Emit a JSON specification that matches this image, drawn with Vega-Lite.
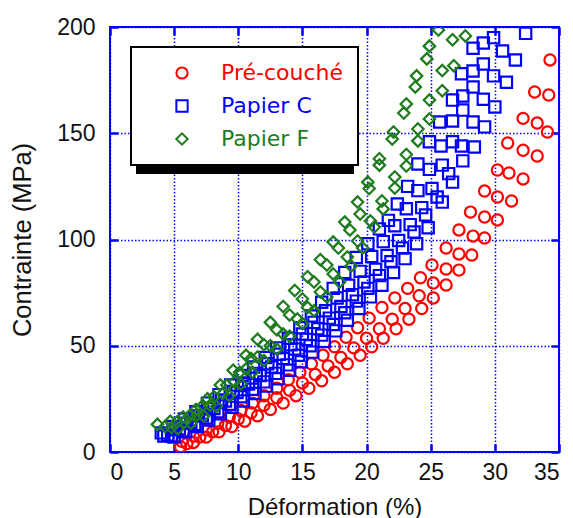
{
  "$schema": "https://vega.github.io/schema/vega-lite/v6.json",
  "width": 449,
  "height": 425,
  "autosize": {"type": "none"},
  "padding": {"left": 110, "top": 27, "right": 14, "bottom": 66},
  "background": "white",
  "config": {
    "view": {"stroke": "#0000ff", "strokeWidth": 2},
    "axis": {
      "labelFont": "Liberation Sans",
      "labelFontSize": 23,
      "labelColor": "#111111",
      "titleFont": "Liberation Sans",
      "titleFontSize": 24,
      "titleFontWeight": "normal",
      "titleColor": "#111111",
      "domain": false,
      "ticks": true,
      "tickColor": "#0000ff",
      "tickWidth": 2.5,
      "tickSize": -8,
      "gridColor": "#0000ff",
      "gridDash": [1.5, 2],
      "gridWidth": 1.5,
      "gridOpacity": 1
    },
    "legend": {
      "strokeWidth": 2
    }
  },
  "data": {
    "values": [
      {"serie":"Pré-couché","deformation":5.6,"contrainte":5},
      {"serie":"Pré-couché","deformation":6.5,"contrainte":7.5},
      {"serie":"Pré-couché","deformation":7.5,"contrainte":10.5},
      {"serie":"Pré-couché","deformation":8.4,"contrainte":13.5},
      {"serie":"Pré-couché","deformation":9.3,"contrainte":16.5},
      {"serie":"Pré-couché","deformation":10.2,"contrainte":19.5},
      {"serie":"Pré-couché","deformation":11.1,"contrainte":23},
      {"serie":"Pré-couché","deformation":12,"contrainte":26.5},
      {"serie":"Pré-couché","deformation":13,"contrainte":30},
      {"serie":"Pré-couché","deformation":13.9,"contrainte":34},
      {"serie":"Pré-couché","deformation":14.8,"contrainte":37.5},
      {"serie":"Pré-couché","deformation":15.7,"contrainte":41.5},
      {"serie":"Pré-couché","deformation":16.6,"contrainte":45.5},
      {"serie":"Pré-couché","deformation":17.5,"contrainte":49.5},
      {"serie":"Pré-couché","deformation":18.4,"contrainte":54},
      {"serie":"Pré-couché","deformation":19.3,"contrainte":58.5},
      {"serie":"Pré-couché","deformation":20.2,"contrainte":63},
      {"serie":"Pré-couché","deformation":21.2,"contrainte":68},
      {"serie":"Pré-couché","deformation":22.2,"contrainte":72.5},
      {"serie":"Pré-couché","deformation":23.2,"contrainte":77},
      {"serie":"Pré-couché","deformation":24.2,"contrainte":82},
      {"serie":"Pré-couché","deformation":25.1,"contrainte":88},
      {"serie":"Pré-couché","deformation":26.2,"contrainte":96},
      {"serie":"Pré-couché","deformation":27.2,"contrainte":104.5},
      {"serie":"Pré-couché","deformation":28.1,"contrainte":112.9},
      {"serie":"Pré-couché","deformation":29.2,"contrainte":122.8},
      {"serie":"Pré-couché","deformation":30.2,"contrainte":132.7},
      {"serie":"Pré-couché","deformation":31,"contrainte":145.4},
      {"serie":"Pré-couché","deformation":32.2,"contrainte":157},
      {"serie":"Pré-couché","deformation":33.1,"contrainte":169.4},
      {"serie":"Pré-couché","deformation":34.3,"contrainte":184.5},
      {"serie":"Pré-couché","deformation":6,"contrainte":4},
      {"serie":"Pré-couché","deformation":7,"contrainte":7},
      {"serie":"Pré-couché","deformation":8,"contrainte":9.5},
      {"serie":"Pré-couché","deformation":9,"contrainte":12.5},
      {"serie":"Pré-couché","deformation":10,"contrainte":15.5},
      {"serie":"Pré-couché","deformation":11,"contrainte":18.5},
      {"serie":"Pré-couché","deformation":12,"contrainte":22},
      {"serie":"Pré-couché","deformation":13,"contrainte":25.5},
      {"serie":"Pré-couché","deformation":14,"contrainte":29},
      {"serie":"Pré-couché","deformation":15,"contrainte":32.5},
      {"serie":"Pré-couché","deformation":16,"contrainte":36.5},
      {"serie":"Pré-couché","deformation":17,"contrainte":40.5},
      {"serie":"Pré-couché","deformation":18,"contrainte":44.5},
      {"serie":"Pré-couché","deformation":19,"contrainte":49},
      {"serie":"Pré-couché","deformation":20,"contrainte":53.5},
      {"serie":"Pré-couché","deformation":21,"contrainte":58},
      {"serie":"Pré-couché","deformation":22,"contrainte":62.5},
      {"serie":"Pré-couché","deformation":23,"contrainte":67.5},
      {"serie":"Pré-couché","deformation":24.1,"contrainte":73.5},
      {"serie":"Pré-couché","deformation":25.2,"contrainte":79.5},
      {"serie":"Pré-couché","deformation":26.2,"contrainte":86.1},
      {"serie":"Pré-couché","deformation":27.2,"contrainte":93.2},
      {"serie":"Pré-couché","deformation":28.3,"contrainte":101.6},
      {"serie":"Pré-couché","deformation":29.2,"contrainte":110.6},
      {"serie":"Pré-couché","deformation":30.2,"contrainte":120},
      {"serie":"Pré-couché","deformation":31.1,"contrainte":131.3},
      {"serie":"Pré-couché","deformation":32.2,"contrainte":142},
      {"serie":"Pré-couché","deformation":33.3,"contrainte":154.8},
      {"serie":"Pré-couché","deformation":34.2,"contrainte":168},
      {"serie":"Pré-couché","deformation":5.5,"contrainte":2.5},
      {"serie":"Pré-couché","deformation":6.5,"contrainte":4.5},
      {"serie":"Pré-couché","deformation":7.5,"contrainte":7},
      {"serie":"Pré-couché","deformation":8.5,"contrainte":9.5},
      {"serie":"Pré-couché","deformation":9.5,"contrainte":12},
      {"serie":"Pré-couché","deformation":10.5,"contrainte":14.5},
      {"serie":"Pré-couché","deformation":11.5,"contrainte":17},
      {"serie":"Pré-couché","deformation":12.5,"contrainte":20},
      {"serie":"Pré-couché","deformation":13.5,"contrainte":23},
      {"serie":"Pré-couché","deformation":14.5,"contrainte":26.5},
      {"serie":"Pré-couché","deformation":15.5,"contrainte":30},
      {"serie":"Pré-couché","deformation":16.5,"contrainte":33.5},
      {"serie":"Pré-couché","deformation":17.5,"contrainte":37.5},
      {"serie":"Pré-couché","deformation":18.5,"contrainte":41.5},
      {"serie":"Pré-couché","deformation":19.5,"contrainte":45.5},
      {"serie":"Pré-couché","deformation":20.4,"contrainte":49.5},
      {"serie":"Pré-couché","deformation":21.3,"contrainte":53.5},
      {"serie":"Pré-couché","deformation":22.3,"contrainte":58},
      {"serie":"Pré-couché","deformation":23.3,"contrainte":62.5},
      {"serie":"Pré-couché","deformation":24.3,"contrainte":67.5},
      {"serie":"Pré-couché","deformation":25.2,"contrainte":72.5},
      {"serie":"Pré-couché","deformation":26.2,"contrainte":78.6},
      {"serie":"Pré-couché","deformation":27.2,"contrainte":85.6},
      {"serie":"Pré-couché","deformation":28.2,"contrainte":92.7},
      {"serie":"Pré-couché","deformation":29.2,"contrainte":100.7},
      {"serie":"Pré-couché","deformation":30.2,"contrainte":109.2},
      {"serie":"Pré-couché","deformation":31.3,"contrainte":118.1},
      {"serie":"Pré-couché","deformation":32.2,"contrainte":128.5},
      {"serie":"Pré-couché","deformation":33.3,"contrainte":139.3},
      {"serie":"Pré-couché","deformation":34.1,"contrainte":150.6},
      {"serie":"Papier C","deformation":4,"contrainte":9},
      {"serie":"Papier C","deformation":4.9,"contrainte":12},
      {"serie":"Papier C","deformation":5.8,"contrainte":15.5},
      {"serie":"Papier C","deformation":6.7,"contrainte":19},
      {"serie":"Papier C","deformation":7.6,"contrainte":23},
      {"serie":"Papier C","deformation":8.5,"contrainte":27},
      {"serie":"Papier C","deformation":9.4,"contrainte":31.5},
      {"serie":"Papier C","deformation":10.3,"contrainte":36},
      {"serie":"Papier C","deformation":11.2,"contrainte":40},
      {"serie":"Papier C","deformation":12.1,"contrainte":44.5},
      {"serie":"Papier C","deformation":13,"contrainte":49},
      {"serie":"Papier C","deformation":13.9,"contrainte":53.5},
      {"serie":"Papier C","deformation":14.8,"contrainte":58.5},
      {"serie":"Papier C","deformation":15.7,"contrainte":64},
      {"serie":"Papier C","deformation":16.5,"contrainte":70.5},
      {"serie":"Papier C","deformation":17.4,"contrainte":77},
      {"serie":"Papier C","deformation":18.3,"contrainte":84.5},
      {"serie":"Papier C","deformation":19.2,"contrainte":91.5},
      {"serie":"Papier C","deformation":20.1,"contrainte":98},
      {"serie":"Papier C","deformation":21,"contrainte":105},
      {"serie":"Papier C","deformation":21.7,"contrainte":109},
      {"serie":"Papier C","deformation":22.4,"contrainte":116.7},
      {"serie":"Papier C","deformation":23.2,"contrainte":125},
      {"serie":"Papier C","deformation":24,"contrainte":135.5},
      {"serie":"Papier C","deformation":24.9,"contrainte":146},
      {"serie":"Papier C","deformation":25.7,"contrainte":155.3},
      {"serie":"Papier C","deformation":26.7,"contrainte":165.6},
      {"serie":"Papier C","deformation":27.4,"contrainte":178},
      {"serie":"Papier C","deformation":28.3,"contrainte":190},
      {"serie":"Papier C","deformation":4.2,"contrainte":7.5},
      {"serie":"Papier C","deformation":5.1,"contrainte":10.5},
      {"serie":"Papier C","deformation":6,"contrainte":13.5},
      {"serie":"Papier C","deformation":6.9,"contrainte":17},
      {"serie":"Papier C","deformation":7.8,"contrainte":20.5},
      {"serie":"Papier C","deformation":8.7,"contrainte":24.5},
      {"serie":"Papier C","deformation":9.6,"contrainte":28.5},
      {"serie":"Papier C","deformation":10.5,"contrainte":32.5},
      {"serie":"Papier C","deformation":11.4,"contrainte":37},
      {"serie":"Papier C","deformation":12.3,"contrainte":41.5},
      {"serie":"Papier C","deformation":13.2,"contrainte":46},
      {"serie":"Papier C","deformation":14.1,"contrainte":50.5},
      {"serie":"Papier C","deformation":15,"contrainte":55.5},
      {"serie":"Papier C","deformation":15.9,"contrainte":61},
      {"serie":"Papier C","deformation":16.8,"contrainte":66.5},
      {"serie":"Papier C","deformation":17.7,"contrainte":72.5},
      {"serie":"Papier C","deformation":18.6,"contrainte":78.5},
      {"serie":"Papier C","deformation":19.5,"contrainte":85},
      {"serie":"Papier C","deformation":20.4,"contrainte":92},
      {"serie":"Papier C","deformation":21.3,"contrainte":99},
      {"serie":"Papier C","deformation":22.2,"contrainte":106.5},
      {"serie":"Papier C","deformation":23.1,"contrainte":114.5},
      {"serie":"Papier C","deformation":24,"contrainte":123},
      {"serie":"Papier C","deformation":24.9,"contrainte":133},
      {"serie":"Papier C","deformation":25.8,"contrainte":144},
      {"serie":"Papier C","deformation":26.7,"contrainte":155.8},
      {"serie":"Papier C","deformation":27.5,"contrainte":167.5},
      {"serie":"Papier C","deformation":28.3,"contrainte":179.3},
      {"serie":"Papier C","deformation":29.1,"contrainte":192.5},
      {"serie":"Papier C","deformation":4.5,"contrainte":8},
      {"serie":"Papier C","deformation":5.4,"contrainte":11},
      {"serie":"Papier C","deformation":6.3,"contrainte":14},
      {"serie":"Papier C","deformation":7.2,"contrainte":17},
      {"serie":"Papier C","deformation":8.1,"contrainte":20.5},
      {"serie":"Papier C","deformation":9,"contrainte":24},
      {"serie":"Papier C","deformation":9.9,"contrainte":28},
      {"serie":"Papier C","deformation":10.8,"contrainte":32},
      {"serie":"Papier C","deformation":11.7,"contrainte":36},
      {"serie":"Papier C","deformation":12.6,"contrainte":40},
      {"serie":"Papier C","deformation":13.5,"contrainte":44},
      {"serie":"Papier C","deformation":14.4,"contrainte":48.5},
      {"serie":"Papier C","deformation":15.3,"contrainte":53},
      {"serie":"Papier C","deformation":16.2,"contrainte":58},
      {"serie":"Papier C","deformation":17.1,"contrainte":63},
      {"serie":"Papier C","deformation":18,"contrainte":68.5},
      {"serie":"Papier C","deformation":18.9,"contrainte":74},
      {"serie":"Papier C","deformation":19.8,"contrainte":80},
      {"serie":"Papier C","deformation":20.7,"contrainte":86},
      {"serie":"Papier C","deformation":21.6,"contrainte":92.5},
      {"serie":"Papier C","deformation":22.5,"contrainte":99.5},
      {"serie":"Papier C","deformation":23.4,"contrainte":107},
      {"serie":"Papier C","deformation":24.3,"contrainte":115},
      {"serie":"Papier C","deformation":25.1,"contrainte":124},
      {"serie":"Papier C","deformation":25.9,"contrainte":135},
      {"serie":"Papier C","deformation":26.7,"contrainte":146},
      {"serie":"Papier C","deformation":27.5,"contrainte":160.9},
      {"serie":"Papier C","deformation":28.3,"contrainte":171.8},
      {"serie":"Papier C","deformation":29.1,"contrainte":182.6},
      {"serie":"Papier C","deformation":29.9,"contrainte":195},
      {"serie":"Papier C","deformation":4.8,"contrainte":7.5},
      {"serie":"Papier C","deformation":5.7,"contrainte":10},
      {"serie":"Papier C","deformation":6.6,"contrainte":13},
      {"serie":"Papier C","deformation":7.5,"contrainte":16},
      {"serie":"Papier C","deformation":8.4,"contrainte":19},
      {"serie":"Papier C","deformation":9.3,"contrainte":22.5},
      {"serie":"Papier C","deformation":10.2,"contrainte":26},
      {"serie":"Papier C","deformation":11.1,"contrainte":29.5},
      {"serie":"Papier C","deformation":12,"contrainte":33},
      {"serie":"Papier C","deformation":12.9,"contrainte":37},
      {"serie":"Papier C","deformation":13.8,"contrainte":41},
      {"serie":"Papier C","deformation":14.7,"contrainte":45.5},
      {"serie":"Papier C","deformation":15.6,"contrainte":50},
      {"serie":"Papier C","deformation":16.5,"contrainte":55},
      {"serie":"Papier C","deformation":17.4,"contrainte":60},
      {"serie":"Papier C","deformation":18.3,"contrainte":65.5},
      {"serie":"Papier C","deformation":19.2,"contrainte":71},
      {"serie":"Papier C","deformation":20.1,"contrainte":77},
      {"serie":"Papier C","deformation":21,"contrainte":83},
      {"serie":"Papier C","deformation":21.9,"contrainte":89.5},
      {"serie":"Papier C","deformation":22.8,"contrainte":96},
      {"serie":"Papier C","deformation":23.7,"contrainte":103.5},
      {"serie":"Papier C","deformation":24.6,"contrainte":111.5},
      {"serie":"Papier C","deformation":25.5,"contrainte":120},
      {"serie":"Papier C","deformation":26.4,"contrainte":131},
      {"serie":"Papier C","deformation":27.4,"contrainte":144},
      {"serie":"Papier C","deformation":28.3,"contrainte":155.3},
      {"serie":"Papier C","deformation":29.1,"contrainte":166},
      {"serie":"Papier C","deformation":29.9,"contrainte":177},
      {"serie":"Papier C","deformation":30.6,"contrainte":188.7},
      {"serie":"Papier C","deformation":5,"contrainte":7},
      {"serie":"Papier C","deformation":5.9,"contrainte":9.5},
      {"serie":"Papier C","deformation":6.8,"contrainte":12},
      {"serie":"Papier C","deformation":7.7,"contrainte":15},
      {"serie":"Papier C","deformation":8.6,"contrainte":18},
      {"serie":"Papier C","deformation":9.5,"contrainte":21},
      {"serie":"Papier C","deformation":10.4,"contrainte":24},
      {"serie":"Papier C","deformation":11.3,"contrainte":27.5},
      {"serie":"Papier C","deformation":12.2,"contrainte":31},
      {"serie":"Papier C","deformation":13.1,"contrainte":34.5},
      {"serie":"Papier C","deformation":14,"contrainte":38.5},
      {"serie":"Papier C","deformation":14.9,"contrainte":42.5},
      {"serie":"Papier C","deformation":15.8,"contrainte":47},
      {"serie":"Papier C","deformation":16.7,"contrainte":52},
      {"serie":"Papier C","deformation":17.6,"contrainte":57},
      {"serie":"Papier C","deformation":18.5,"contrainte":62},
      {"serie":"Papier C","deformation":19.4,"contrainte":67.5},
      {"serie":"Papier C","deformation":20.3,"contrainte":73},
      {"serie":"Papier C","deformation":21.2,"contrainte":78.5},
      {"serie":"Papier C","deformation":22.1,"contrainte":84.5},
      {"serie":"Papier C","deformation":23,"contrainte":91},
      {"serie":"Papier C","deformation":23.9,"contrainte":98},
      {"serie":"Papier C","deformation":24.8,"contrainte":105.5},
      {"serie":"Papier C","deformation":25.9,"contrainte":117.6},
      {"serie":"Papier C","deformation":26.7,"contrainte":127},
      {"serie":"Papier C","deformation":27.5,"contrainte":137},
      {"serie":"Papier C","deformation":28.4,"contrainte":143.5},
      {"serie":"Papier C","deformation":29.2,"contrainte":153},
      {"serie":"Papier C","deformation":30,"contrainte":162.4},
      {"serie":"Papier C","deformation":30.9,"contrainte":174},
      {"serie":"Papier C","deformation":31.6,"contrainte":184.5},
      {"serie":"Papier C","deformation":32.4,"contrainte":197},
      {"serie":"Papier F","deformation":3.7,"contrainte":13},
      {"serie":"Papier F","deformation":4.7,"contrainte":14.5},
      {"serie":"Papier F","deformation":5.7,"contrainte":16.5},
      {"serie":"Papier F","deformation":6.7,"contrainte":20},
      {"serie":"Papier F","deformation":7.6,"contrainte":25},
      {"serie":"Papier F","deformation":8.6,"contrainte":31.5},
      {"serie":"Papier F","deformation":9.6,"contrainte":38.5},
      {"serie":"Papier F","deformation":10.6,"contrainte":45.5},
      {"serie":"Papier F","deformation":11.5,"contrainte":53},
      {"serie":"Papier F","deformation":12.5,"contrainte":61},
      {"serie":"Papier F","deformation":13.5,"contrainte":68.5},
      {"serie":"Papier F","deformation":14.4,"contrainte":76},
      {"serie":"Papier F","deformation":15.4,"contrainte":82.5},
      {"serie":"Papier F","deformation":16.4,"contrainte":90.5},
      {"serie":"Papier F","deformation":17.4,"contrainte":98.8},
      {"serie":"Papier F","deformation":18.3,"contrainte":108.2},
      {"serie":"Papier F","deformation":19.3,"contrainte":117.6},
      {"serie":"Papier F","deformation":20.1,"contrainte":127},
      {"serie":"Papier F","deformation":21,"contrainte":138},
      {"serie":"Papier F","deformation":22.1,"contrainte":150.6},
      {"serie":"Papier F","deformation":23.1,"contrainte":163.8},
      {"serie":"Papier F","deformation":23.9,"contrainte":177},
      {"serie":"Papier F","deformation":24.9,"contrainte":191},
      {"serie":"Papier F","deformation":25.6,"contrainte":198.6},
      {"serie":"Papier F","deformation":4.3,"contrainte":12},
      {"serie":"Papier F","deformation":5.2,"contrainte":14},
      {"serie":"Papier F","deformation":6.2,"contrainte":17},
      {"serie":"Papier F","deformation":7.1,"contrainte":21},
      {"serie":"Papier F","deformation":8.1,"contrainte":26},
      {"serie":"Papier F","deformation":9.1,"contrainte":31.5},
      {"serie":"Papier F","deformation":10.1,"contrainte":37.5},
      {"serie":"Papier F","deformation":11,"contrainte":44},
      {"serie":"Papier F","deformation":12,"contrainte":50.5},
      {"serie":"Papier F","deformation":13,"contrainte":57.5},
      {"serie":"Papier F","deformation":14,"contrainte":64.5},
      {"serie":"Papier F","deformation":15,"contrainte":72},
      {"serie":"Papier F","deformation":15.9,"contrainte":80},
      {"serie":"Papier F","deformation":16.9,"contrainte":88},
      {"serie":"Papier F","deformation":17.8,"contrainte":96},
      {"serie":"Papier F","deformation":18.7,"contrainte":104.5},
      {"serie":"Papier F","deformation":19.5,"contrainte":112},
      {"serie":"Papier F","deformation":20.2,"contrainte":124},
      {"serie":"Papier F","deformation":21,"contrainte":135},
      {"serie":"Papier F","deformation":22,"contrainte":147.3},
      {"serie":"Papier F","deformation":22.9,"contrainte":159.5},
      {"serie":"Papier F","deformation":23.8,"contrainte":171.8},
      {"serie":"Papier F","deformation":24.7,"contrainte":185},
      {"serie":"Papier F","deformation":4.8,"contrainte":11.5},
      {"serie":"Papier F","deformation":5.8,"contrainte":14},
      {"serie":"Papier F","deformation":6.8,"contrainte":17.5},
      {"serie":"Papier F","deformation":7.8,"contrainte":22},
      {"serie":"Papier F","deformation":8.8,"contrainte":27.5},
      {"serie":"Papier F","deformation":9.7,"contrainte":33},
      {"serie":"Papier F","deformation":10.6,"contrainte":39},
      {"serie":"Papier F","deformation":11.5,"contrainte":44.7},
      {"serie":"Papier F","deformation":12.5,"contrainte":50},
      {"serie":"Papier F","deformation":13.5,"contrainte":55.5},
      {"serie":"Papier F","deformation":14.6,"contrainte":62.6},
      {"serie":"Papier F","deformation":15.4,"contrainte":68},
      {"serie":"Papier F","deformation":16.4,"contrainte":75.3},
      {"serie":"Papier F","deformation":17.4,"contrainte":83.8},
      {"serie":"Papier F","deformation":18.5,"contrainte":91.8},
      {"serie":"Papier F","deformation":19.3,"contrainte":99.3},
      {"serie":"Papier F","deformation":20.3,"contrainte":108.7},
      {"serie":"Papier F","deformation":21.2,"contrainte":118.1},
      {"serie":"Papier F","deformation":22.2,"contrainte":129.4},
      {"serie":"Papier F","deformation":23.1,"contrainte":140},
      {"serie":"Papier F","deformation":24,"contrainte":152},
      {"serie":"Papier F","deformation":24.9,"contrainte":165.6},
      {"serie":"Papier F","deformation":25.9,"contrainte":179.5},
      {"serie":"Papier F","deformation":26.7,"contrainte":194},
      {"serie":"Papier F","deformation":5.3,"contrainte":11},
      {"serie":"Papier F","deformation":6.3,"contrainte":13.5},
      {"serie":"Papier F","deformation":7.3,"contrainte":17},
      {"serie":"Papier F","deformation":8.3,"contrainte":21.5},
      {"serie":"Papier F","deformation":9.3,"contrainte":26.5},
      {"serie":"Papier F","deformation":10.2,"contrainte":32},
      {"serie":"Papier F","deformation":11.1,"contrainte":37.5},
      {"serie":"Papier F","deformation":12,"contrainte":43},
      {"serie":"Papier F","deformation":13,"contrainte":48.5},
      {"serie":"Papier F","deformation":14,"contrainte":54.5},
      {"serie":"Papier F","deformation":15,"contrainte":60.5},
      {"serie":"Papier F","deformation":15.9,"contrainte":66.5},
      {"serie":"Papier F","deformation":16.9,"contrainte":73},
      {"serie":"Papier F","deformation":17.9,"contrainte":80},
      {"serie":"Papier F","deformation":18.8,"contrainte":87.5},
      {"serie":"Papier F","deformation":19.7,"contrainte":96},
      {"serie":"Papier F","deformation":20.6,"contrainte":105.9},
      {"serie":"Papier F","deformation":21.3,"contrainte":114.4},
      {"serie":"Papier F","deformation":22.2,"contrainte":124.2},
      {"serie":"Papier F","deformation":23.1,"contrainte":134.6},
      {"serie":"Papier F","deformation":24,"contrainte":146.4},
      {"serie":"Papier F","deformation":24.9,"contrainte":156.7},
      {"serie":"Papier F","deformation":25.9,"contrainte":170},
      {"serie":"Papier F","deformation":26.8,"contrainte":181.8},
      {"serie":"Papier F","deformation":27.7,"contrainte":195.8}
    ]
  },
  "layer": [
    {
      "mark": {"type": "point", "filled": false, "strokeWidth": 2.2, "opacity": 1, "clip": true},
      "encoding": {
        "x": {
          "field": "deformation", "type": "quantitative",
          "scale": {"domain": [0, 35], "nice": false, "zero": false},
          "axis": {"title": "Déformation  (%)", "values": [0, 5, 10, 15, 20, 25, 30, 35], "grid": true, "ticks": true, "tickSize": -8, "labelPadding": 17, "titlePadding": 11}
        },
        "y": {
          "field": "contrainte", "type": "quantitative",
          "scale": {"domain": [0, 200], "nice": false, "zero": false},
          "axis": {"title": "Contrainte  (MPa)", "titleFontSize": 25.5, "values": [0, 50, 100, 150, 200], "grid": true, "ticks": true, "tickSize": -8, "labelPadding": 23, "titlePadding": 21}
        },
        "color": {
          "field": "serie", "type": "nominal",
          "scale": {"domain": ["Pré-couché", "Papier C", "Papier F"], "range": ["#ff0000", "#0000ff", "#1e7b1e"]},
          "legend": {
            "title": null, "orient": "none", "legendX": 21, "legendY": 20, "zindex": 2,
            "fillColor": "white", "strokeColor": "black",
            "padding": 15, "rowPadding": 11,
            "symbolOffset": 25, "labelOffset": 28,
            "symbolSize": 100, "symbolStrokeWidth": 2,
            "labelFont": "DejaVu Sans", "labelFontSize": 22,
            "labelColor": {"expr": "datum.value == 'Pré-couché' ? '#ff0000' : datum.value == 'Papier C' ? '#0000ff' : '#1e7b1e'"}
          }
        },
        "shape": {
          "field": "serie", "type": "nominal",
          "scale": {"domain": ["Pré-couché", "Papier C", "Papier F"], "range": ["circle", "square", "diamond"]}
        },
        "size": {
          "field": "serie", "type": "nominal",
          "scale": {"domain": ["Pré-couché", "Papier C", "Papier F"], "range": [125, 130, 165]},
          "legend": null
        }
      }
    },
    {
      "mark": {"type": "point", "opacity": 0},
      "encoding": {
        "x": {
          "field": "deformation", "type": "quantitative",
          "axis": {"orient": "top", "title": null, "labels": false, "grid": false, "ticks": true, "tickSize": -8, "values": [0, 5, 10, 15, 20, 25, 30, 35]}
        },
        "y": {
          "field": "contrainte", "type": "quantitative",
          "axis": {"orient": "right", "title": null, "labels": false, "grid": false, "ticks": true, "tickSize": -8, "values": [0, 50, 100, 150, 200]}
        },
        "strokeDash": {
          "field": "serie", "type": "nominal",
          "scale": {"domain": ["Papier F", "Papier C", "Pré-couché"]},
          "legend": {
            "title": null, "orient": "none", "legendX": 27, "legendY": 25, "zindex": 1,
            "fillColor": "black", "strokeColor": "black",
            "padding": 15, "rowPadding": 11,
            "symbolOffset": 134, "labelOffset": 28,
            "symbolSize": 484, "symbolStrokeWidth": 2, "symbolOpacity": 0,
            "labelExpr": "''", "labelOpacity": 0,
            "labelFont": "DejaVu Sans", "labelFontSize": 22
          }
        }
      }
    }
  ],
  "resolve": {"axis": {"x": "independent", "y": "independent"}}
}
